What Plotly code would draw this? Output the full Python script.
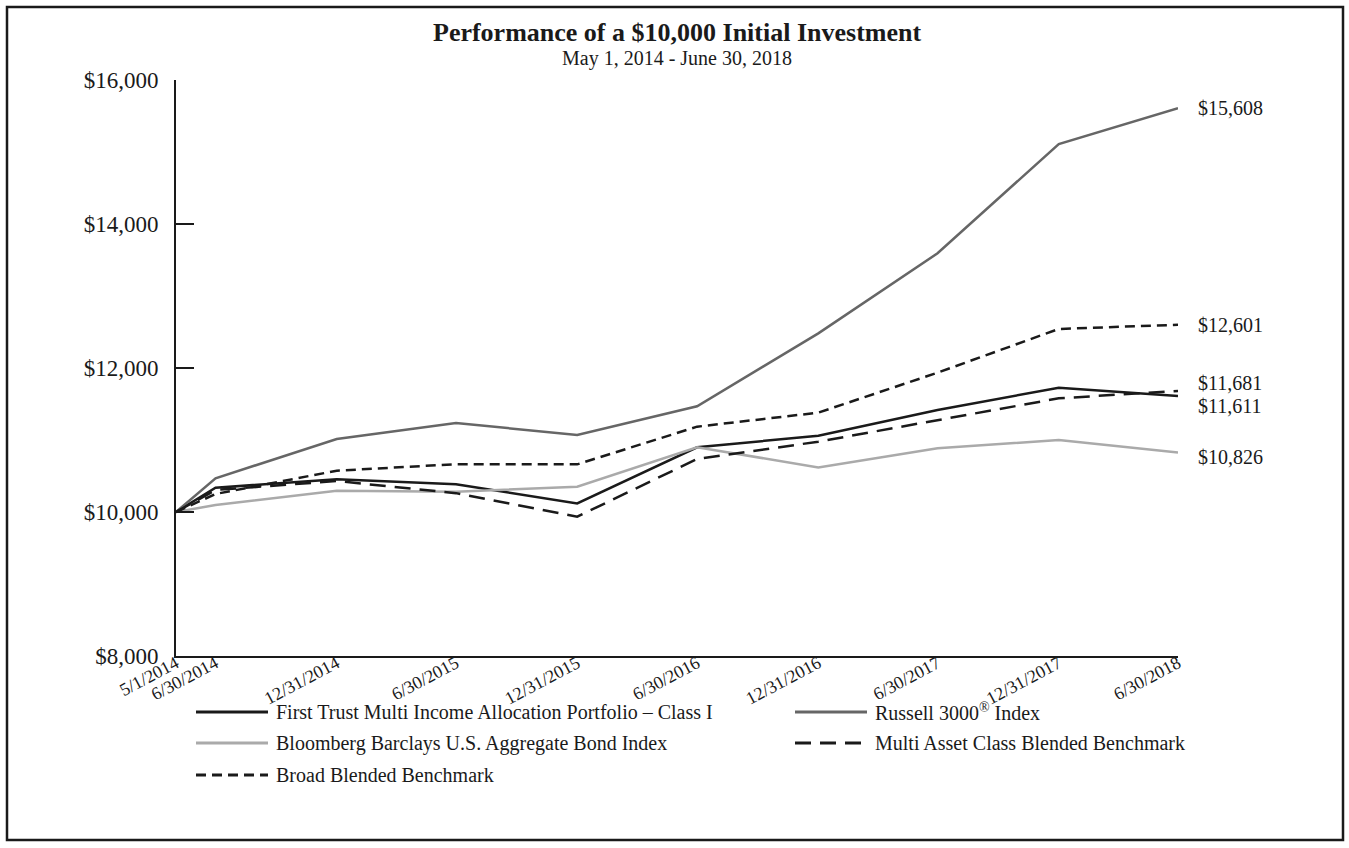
import plotly.graph_objects as go

dates = ["2014-05-01", "2014-06-30", "2014-12-31", "2015-06-30", "2015-12-31",
         "2016-06-30", "2016-12-31", "2017-06-30", "2017-12-31", "2018-06-30"]
tick_labels = ["5/1/2014", "6/30/2014", "12/31/2014", "6/30/2015", "12/31/2015",
               "6/30/2016", "12/31/2016", "6/30/2017", "12/31/2017", "6/30/2018"]

first_trust = [10000, 10338, 10454, 10384, 10120, 10898, 11060, 11417, 11727, 11611]
russell = [10000, 10468, 11014, 11236, 11069, 11468, 12481, 13593, 15111, 15608]
bloomberg = [10000, 10097, 10296, 10282, 10352, 10898, 10620, 10884, 11000, 10826]
multi_asset = [10000, 10306, 10430, 10262, 9935, 10736, 10977, 11278, 11579, 11681]
broad = [10000, 10250, 10574, 10664, 10662, 11185, 11380, 11935, 12542, 12601]

y_ticks = [8000, 10000, 12000, 14000, 16000]
y_tick_labels = ["$8,000", "$10,000", "$12,000", "$14,000", "$16,000"]

names = ["First Trust Multi Income Allocation Portfolio \u2013 Class I",
         "Russell 3000<sup>\u00ae</sup> Index",
         "Bloomberg Barclays U.S. Aggregate Bond Index",
         "Multi Asset Class Blended Benchmark",
         "Broad Blended Benchmark"]

FONT = "Liberation Serif, Times New Roman, serif"
W, H = 1349, 848
ML, MR, MT, MB = 176, 171, 80, 192
PW, PH = W - ML - MR, H - MT - MB


def px(xp):
    return (xp - ML) / PW


def py(yp):
    return (H - MB - yp) / PH


series = [
    (first_trust, names[0], "#1a1a1a", "solid"),
    (russell, names[1], "#666666", "solid"),
    (bloomberg, names[2], "#aaaaaa", "solid"),
    (multi_asset, names[3], "#1a1a1a", "16px,9px"),
    (broad, names[4], "#1a1a1a", "10px,6px"),
]

fig = go.Figure()
for vals, nm, col, dash in series:
    fig.add_trace(go.Scatter(x=dates, y=vals, mode="lines", name=nm,
                             line=dict(color=col, width=2.5, dash=dash),
                             showlegend=False))

# End-value labels
end_shift = {0: -10, 1: 0, 2: -4, 3: 8, 4: 0}
for i, (vals, nm, col, dash) in enumerate(series):
    fig.add_annotation(x=dates[-1], y=vals[-1], text="${:,}".format(vals[-1]),
                       showarrow=False, xanchor="left", yanchor="middle",
                       xshift=18, yshift=end_shift[i],
                       font=dict(family=FONT, size=20, color="#1a1a1a"))

# Title
fig.add_annotation(x=0.5, y=py(32), xref="paper", yref="paper",
                   text="<b>Performance of a $10,000 Initial Investment</b>",
                   showarrow=False, xanchor="center", yanchor="middle",
                   font=dict(family=FONT, size=26, color="#1a1a1a"))
fig.add_annotation(x=0.5, y=py(58), xref="paper", yref="paper",
                   text="May 1, 2014 - June 30, 2018",
                   showarrow=False, xanchor="center", yanchor="middle",
                   font=dict(family=FONT, size=20, color="#1a1a1a"))

# Manual legend
legend_items = [
    (0, 196, 712), (1, 795, 712),
    (2, 196, 743), (3, 795, 743),
    (4, 196, 775),
]
shapes = []
for idx, lx, ly in legend_items:
    vals, nm, col, dash = series[idx]
    shapes.append(dict(type="line", xref="paper", yref="paper",
                       x0=px(lx), x1=px(lx + 72), y0=py(ly), y1=py(ly),
                       line=dict(color=col, width=3, dash=dash)))
    fig.add_annotation(x=px(lx + 78), y=py(ly), xref="paper", yref="paper",
                       text=nm, showarrow=False, xanchor="left", yanchor="middle",
                       font=dict(family=FONT, size=20, color="#1a1a1a"))

# Outer border
shapes.append(dict(type="rect", xref="paper", yref="paper",
                   x0=px(7), x1=px(1343), y0=py(840), y1=py(7),
                   line=dict(color="#1a1a1a", width=2.5)))

fig.update_layout(
    width=W, height=H,
    margin=dict(l=ML, r=MR, t=MT, b=MB),
    plot_bgcolor="white", paper_bgcolor="white",
    shapes=shapes,
    showlegend=False,
    font=dict(family=FONT, color="#1a1a1a"),
)
fig.update_xaxes(type="date", range=[dates[0], dates[-1]],
                 tickvals=dates, ticktext=tick_labels, tickangle=-28,
                 showgrid=False, zeroline=False, showline=True,
                 linecolor="#1a1a1a", linewidth=2, ticks="",
                 ticklabelstandoff=-12,
                 tickfont=dict(family=FONT, size=18, color="#1a1a1a"))
fig.update_yaxes(range=[8000, 16000], tickvals=y_ticks, ticktext=y_tick_labels,
                 showgrid=False, zeroline=False, showline=True,
                 linecolor="#1a1a1a", linewidth=2, ticks="inside",
                 ticklen=18, tickwidth=2, tickcolor="#1a1a1a",
                 ticklabelstandoff=11,
                 tickfont=dict(family=FONT, size=23, color="#1a1a1a"))

fig.write_html("out.html")
